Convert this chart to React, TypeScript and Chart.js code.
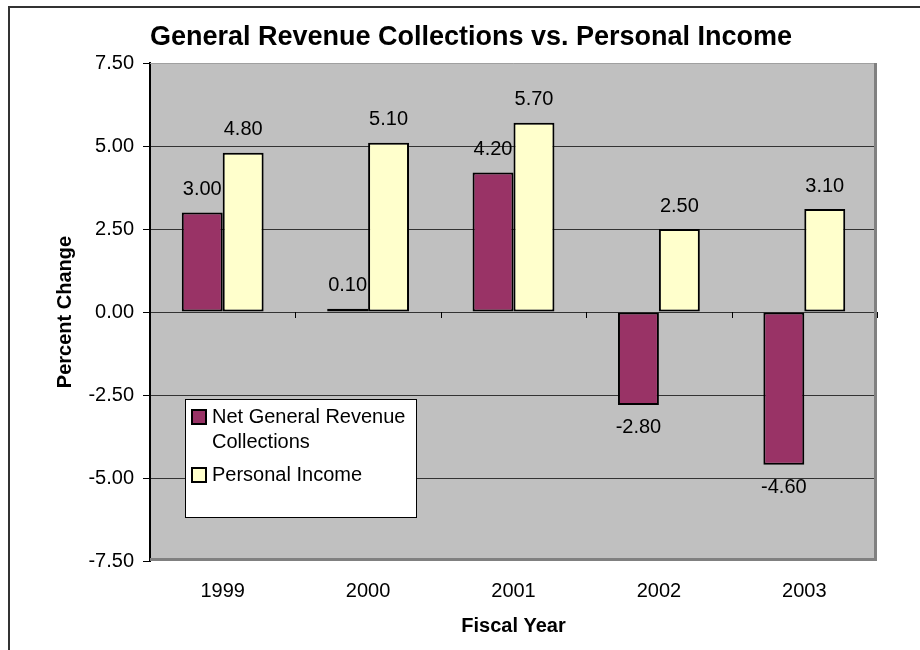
import React, { useEffect, useRef } from "react";
import { Chart, registerables } from "chart.js";

Chart.register(...registerables);

const categories = ["1999", "2000", "2001", "2002", "2003"];
const revenueValues = [3.0, 0.1, 4.2, -2.8, -4.6];
const incomeValues = [4.8, 5.1, 5.7, 2.5, 3.1];
const yTickValues = [-7.5, -5, -2.5, 0, 2.5, 5, 7.5];
const seriesLabels = ["Net General Revenue Collections", "Personal Income"];
const seriesColors = ["#993366", "#FFFFCC"];
const chartTitle = "General Revenue Collections vs. Personal Income";
const yAxisTitle = "Percent Change";
const xAxisTitle = "Fiscal Year";

const FONT = "'Liberation Sans', Arial, Helvetica, sans-serif";

function wrapText(ctx: CanvasRenderingContext2D, text: string, maxW: number): string[] {
  const words = text.split(" ");
  const lines: string[] = [];
  let cur = "";
  for (const w of words) {
    const t = cur ? cur + " " + w : w;
    if (ctx.measureText(t).width > maxW && cur) {
      lines.push(cur);
      cur = w;
    } else cur = t;
  }
  if (cur) lines.push(cur);
  return lines;
}

const decor = {
  id: "decor",
  beforeDraw(chart: any) {
    const { ctx, chartArea: a } = chart;
    ctx.save();
    ctx.fillStyle = "#FFFFFF";
    ctx.fillRect(0, 0, chart.width, chart.height);
    ctx.fillStyle = "#C0C0C0";
    ctx.fillRect(a.left, a.top, a.right - a.left, a.bottom - a.top);
    // outer frame
    ctx.strokeStyle = "#333333";
    ctx.lineWidth = 2;
    ctx.beginPath();
    ctx.moveTo(8, 7);
    ctx.lineTo(chart.width, 7);
    ctx.moveTo(9, 7);
    ctx.lineTo(9, chart.height);
    ctx.stroke();
    // title
    ctx.fillStyle = "#000";
    ctx.font = `bold 27px ${FONT}`;
    ctx.textAlign = "center";
    ctx.textBaseline = "middle";
    ctx.fillText(chartTitle, 471, 38);
    ctx.restore();
  },
  afterDatasetsDraw(chart: any) {
    const { ctx, chartArea: a } = chart;
    const yScale = chart.scales.y;
    ctx.save();
    // plot borders
    ctx.strokeStyle = "#A0A0A0";
    ctx.lineWidth = 1;
    ctx.beginPath();
    ctx.moveTo(a.left, a.top + 0.5);
    ctx.lineTo(a.right, a.top + 0.5);
    ctx.stroke();
    ctx.strokeStyle = "#808080";
    ctx.lineWidth = 3;
    ctx.beginPath();
    ctx.moveTo(a.right - 1.5, a.top);
    ctx.lineTo(a.right - 1.5, a.bottom);
    ctx.moveTo(a.left, a.bottom - 1.5);
    ctx.lineTo(a.right, a.bottom - 1.5);
    ctx.stroke();
    // category tick marks on zero line
    const y0 = Math.round(yScale.getPixelForValue(0));
    const n = categories.length;
    const cw = (a.right - a.left) / n;
    ctx.strokeStyle = "#000";
    ctx.lineWidth = 1;
    ctx.beginPath();
    for (let i = 1; i <= n; i++) {
      const x = Math.round(a.left + i * cw) + 0.5;
      ctx.moveTo(x, y0);
      ctx.lineTo(x, y0 + 6);
    }
    ctx.stroke();
    // data labels
    ctx.fillStyle = "#000";
    ctx.font = `20px ${FONT}`;
    ctx.textAlign = "center";
    ctx.textBaseline = "middle";
    chart.data.datasets.forEach((ds: any, di: number) => {
      const meta = chart.getDatasetMeta(di);
      meta.data.forEach((el: any, i: number) => {
        const v = ds.data[i];
        const y = v >= 0 ? el.y - 23 : el.y + 23;
        ctx.fillText(v.toFixed(2), el.x, y);
      });
    });
    // legend
    const lx = a.left + 35;
    const ly = a.top + 336;
    const lw = 231;
    const lh = 118;
    ctx.fillStyle = "#FFFFFF";
    ctx.fillRect(lx, ly, lw, lh);
    ctx.strokeStyle = "#000";
    ctx.lineWidth = 1;
    ctx.strokeRect(lx + 0.5, ly + 0.5, lw, lh);
    ctx.font = `20px ${FONT}`;
    ctx.textAlign = "left";
    ctx.textBaseline = "middle";
    let cy = ly + 18;
    chart.data.datasets.forEach((ds: any) => {
      const lines = wrapText(ctx, ds.label, 200);
      ctx.fillStyle = ds.backgroundColor;
      ctx.fillRect(lx + 7, cy - 7, 14, 14);
      ctx.strokeStyle = "#000";
      ctx.lineWidth = 2;
      ctx.strokeRect(lx + 7, cy - 7, 14, 14);
      ctx.fillStyle = "#000";
      lines.forEach((ln, k) => {
        ctx.fillText(ln, lx + 27, cy + k * 25);
      });
      cy += (lines.length - 1) * 25 + 33;
    });
    ctx.restore();
  },
};

export default function App() {
  const ref = useRef<HTMLCanvasElement>(null);
  useEffect(() => {
    const chart = new Chart(ref.current as HTMLCanvasElement, {
      type: "bar",
      data: {
        labels: categories,
        datasets: [
          {
            label: seriesLabels[0],
            data: revenueValues,
            backgroundColor: seriesColors[0],
            borderColor: "#000",
            borderWidth: 2,
            borderSkipped: false,
            categoryPercentage: 0.563,
            barPercentage: 1,
          },
          {
            label: seriesLabels[1],
            data: incomeValues,
            backgroundColor: seriesColors[1],
            borderColor: "#000",
            borderWidth: 2,
            borderSkipped: false,
            categoryPercentage: 0.563,
            barPercentage: 1,
          },
        ],
      },
      options: {
        animation: false,
        responsive: true,
        maintainAspectRatio: false,
        layout: { padding: { top: 63, right: 43, left: 0, bottom: 0 } },
        plugins: {
          legend: { display: false },
          title: { display: false },
          tooltip: { enabled: false },
        },
        scales: {
          x: {
            afterFit: (s: any) => {
              s.height = 89;
            },
            grid: { display: false, drawTicks: false },
            border: { display: false },
            ticks: { font: { size: 20, family: FONT }, color: "#000", padding: 18 },
            title: {
              display: true,
              text: xAxisTitle,
              font: { size: 20, weight: "bold", family: FONT },
              color: "#000",
              padding: { top: 0, bottom: 12 },
            },
          },
          y: {
            min: -7.5,
            max: 7.5,
            afterBuildTicks: (s: any) => {
              s.ticks = yTickValues.map((v) => ({ value: v }));
            },
            afterFit: (s: any) => {
              s.width = 150;
            },
            grid: {
              color: (c: any) =>
                c.tick && Math.abs(c.tick.value) === 7.5 ? "rgba(0,0,0,0)" : "#333333",
              tickColor: "#000",
              tickLength: 7,
              lineWidth: 1,
            },
            border: { display: true, color: "#000", width: 2 },
            ticks: {
              font: { size: 20, family: FONT },
              color: "#000",
              padding: 9,
              callback: (v: any) => Number(v).toFixed(2),
            },
            title: {
              display: true,
              text: yAxisTitle,
              font: { size: 20, weight: "bold", family: FONT },
              color: "#000",
              padding: { top: 53, bottom: 0 },
            },
          },
        },
      },
      plugins: [decor],
    });
    return () => chart.destroy();
  }, []);
  return (
    <div style={{ position: "absolute", left: 0, top: 0, width: 920, height: 650 }}>
      <canvas ref={ref} />
    </div>
  );
}
